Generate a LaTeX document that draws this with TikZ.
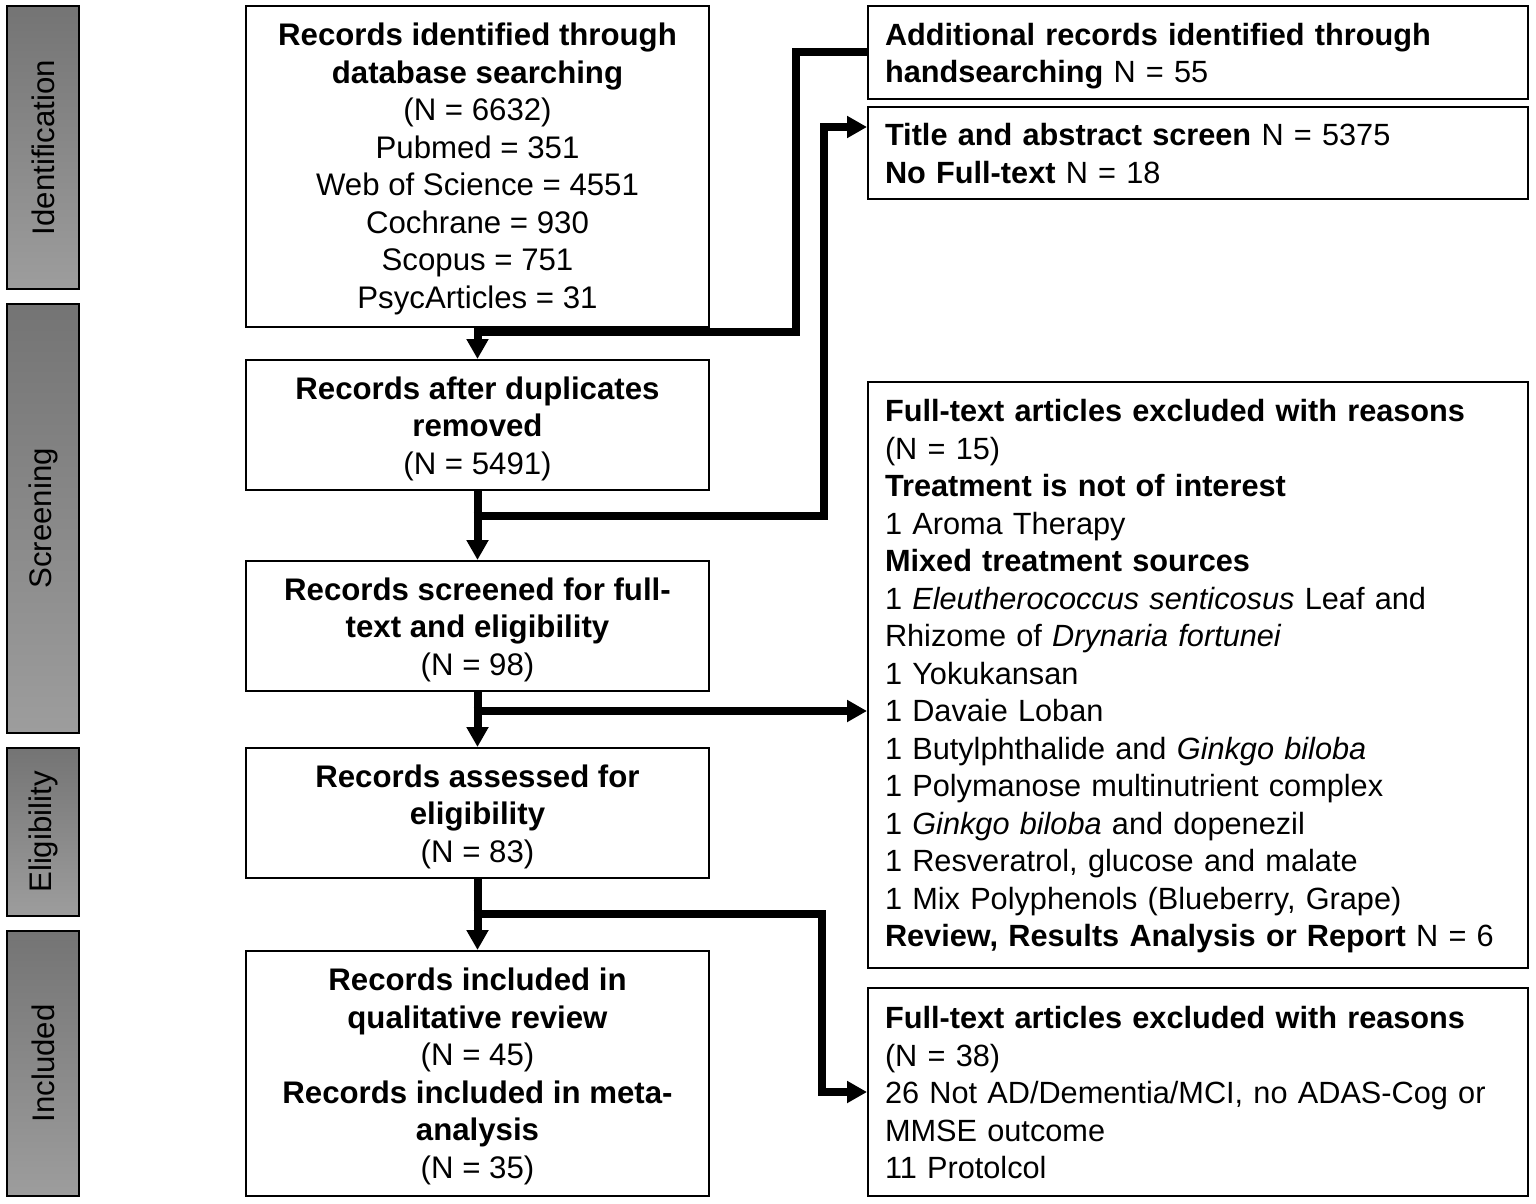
\documentclass[tikz,border=0pt]{standalone}
\usepackage{fontspec}
\setmainfont{Liberation Sans}
\usetikzlibrary{arrows.meta,calc}
\definecolor{shtop}{HTML}{747474}
\definecolor{shbot}{HTML}{9D9D9D}
\begin{document}
\begin{tikzpicture}[x=1pt,y=-1pt,
  txt/.style={font=\fontsize{31.2}{37.5}\selectfont},
  rtxt/.style={font=\fontsize{30.7}{37.5}\selectfont},
  box/.style={draw=black, line width=2pt, fill=white, inner sep=0pt, minimum width=463pt},
  ltext/.style={txt, align=center, inner sep=0pt},
  rbox/.style={draw=black, line width=2pt, fill=white, inner sep=0pt, minimum width=660pt},
  rtext/.style={rtxt, align=left, text width=626pt, inner sep=0pt},
  side/.style={draw=black, line width=1.6pt, minimum width=72pt, inner sep=0pt, top color=shtop, bottom color=shbot},
  sidetxt/.style={txt, rotate=90, inner sep=0pt},
  conn/.style={line width=8pt, line join=miter},
  arr/.style={conn, -{Triangle[length=20pt,width=21pt]}}]
\useasboundingbox (0,0) rectangle (1536,1204);

% side labels
\node[side, minimum height=283pt] (sid) at (43,147.5) {};
\node[sidetxt] (tid) at (sid.center) {Identification};
\node[side, minimum height=429pt] (sscr) at (43,518.5) {};
\node[sidetxt] (tscr) at (sscr.center) {Screening};
\node[side, minimum height=168pt] (selig) at (43,832) {};
\node[sidetxt] (telig) at (selig.center) {Eligibility};
\node[side, minimum height=265pt] (sinc) at (43,1063.5) {};
\node[sidetxt] (tinc) at (sinc.center) {Included};

% left column
\node[box, minimum height=321pt] (id) at (477.5,166.5) {};
\node[ltext] (idt) at ([yshift=-2.5pt]id.center) {\textbf{Records identified through}\\\textbf{database searching}\\(N = 6632)\\Pubmed = 351\\Web of Science = 4551\\Cochrane = 930\\Scopus = 751\\PsycArticles = 31};
\node[box, minimum height=130pt] (dup) at (477.5,425) {};
\node[ltext] (dupt) at ([yshift=-3.5pt]dup.center) {\textbf{Records after duplicates}\\\textbf{removed}\\(N = 5491)};
\node[box, minimum height=130pt] (scr) at (477.5,626) {};
\node[ltext] (scrt) at ([yshift=-3.5pt]scr.center) {\textbf{Records screened for full-}\\\textbf{text and eligibility}\\(N = 98)};
\node[box, minimum height=130pt] (ass) at (477.5,813) {};
\node[ltext] (asst) at ([yshift=-3.5pt]ass.center) {\textbf{Records assessed for}\\\textbf{eligibility}\\(N = 83)};
\node[box, minimum height=245pt] (inc) at (477.5,1073.5) {};
\node[ltext] (inct) at ([yshift=-3pt]inc.center) {\textbf{Records included in}\\\textbf{qualitative review}\\(N = 45)\\\textbf{Records included in meta-}\\\textbf{analysis}\\(N = 35)};

% right column
\node[rbox, minimum height=93pt] (add) at (1198,52.5) {};
\node[rtext] (addt) at ([yshift=-3.5pt]add.center) {\textbf{Additional records identified through}\\\textbf{handsearching} N = 55};
\node[rbox, minimum height=92pt] (tit) at (1198,153) {};
\node[rtext] (titt) at ([yshift=-0.5pt]tit.center) {\textbf{Title and abstract screen} N = 5375\\\textbf{No Full-text} N = 18};
\node[rbox, minimum height=586pt] (ex1) at (1198,675) {};
\node[rtext] (ex1t) at ([yshift=-1.5pt]ex1.center) {\textbf{Full-text articles excluded with reasons}\\(N = 15)\\\textbf{Treatment is not of interest}\\1 Aroma Therapy\\\textbf{Mixed treatment sources}\\1 \textit{Eleutherococcus senticosus} Leaf and\\Rhizome of \textit{Drynaria fortunei}\\1 Yokukansan\\1 Davaie Loban\\1 Butylphthalide and \textit{Ginkgo biloba}\\1 Polymanose multinutrient complex\\1 \textit{Ginkgo biloba} and dopenezil\\1 Resveratrol, glucose and malate\\1 Mix Polyphenols (Blueberry, Grape)\\\textbf{Review, Results Analysis or Report} N = 6};
\node[rbox, minimum height=208pt] (ex2) at (1198,1092) {};
\node[rtext] (ex2t) at ([yshift=-1pt]ex2.center) {\textbf{Full-text articles excluded with reasons}\\(N = 38)\\26 Not AD/Dementia/MCI, no ADAS-Cog or\\MMSE outcome\\11 Protolcol};

% junctions
\coordinate (j1) at (477.5,332);
\coordinate (j2) at (477.5,516);
\coordinate (j3) at (477.5,711);
\coordinate (j4) at (477.5,914);

% connectors
\draw[arr] (id.south) -- (dup.north);
\draw[conn] (add.west) -- ++(-71,0) |- ([xshift=-4pt]j1);
\draw[arr] (dup.south) -- (scr.north);
\draw[arr] ([xshift=-4pt]j2) -- ++(350.5,0) |- ([yshift=-21pt]tit.north west);
\draw[arr] (scr.south) -- (ass.north);
\draw[arr] ([xshift=-4pt]j3) -- (j3 -| ex1.west);
\draw[arr] (ass.south) -- (inc.north);
\draw[arr] ([xshift=-4pt]j4) -- ++(348.5,0) |- (ex2.west);
\end{tikzpicture}
\end{document}
